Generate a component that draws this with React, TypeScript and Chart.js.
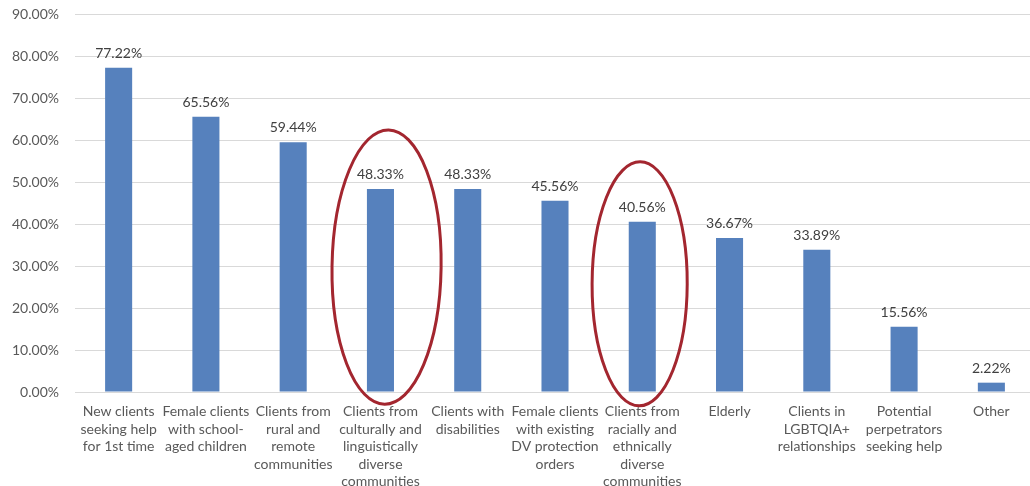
import React, { useEffect, useRef } from "react";
import { Chart, registerables } from "chart.js";

Chart.register(...registerables);

// Client groups (each label wrapped onto its own lines)
const CATEGORIES: string[][] = [
  ["New clients", "seeking help", "for 1st time"],
  ["Female clients", "with school-", "aged children"],
  ["Clients from", "rural and", "remote", "communities"],
  ["Clients from", "culturally and", "linguistically", "diverse", "communities"],
  ["Clients with", "disabilities"],
  ["Female clients", "with existing", "DV protection", "orders"],
  ["Clients from", "racially and", "ethnically", "diverse", "communities"],
  ["Elderly"],
  ["Clients in", "LGBTQIA+", "relationships"],
  ["Potential", "perpetrators", "seeking help"],
  ["Other"],
];

// Share of respondents (%)
const VALUES: number[] = [77.22, 65.56, 59.44, 48.33, 48.33, 45.56, 40.56, 36.67, 33.89, 15.56, 2.22];

// Value axis
const Y_MIN = 0;
const Y_MAX = 90;
const Y_STEP = 10;

// Groups circled for emphasis: category index, vertical extent (axis units),
// half-width and horizontal shift (category units), tilt (radians)
const HIGHLIGHT_INDEX = [3, 6];
const HIGHLIGHT_TOP = [62.4, 54.8];
const HIGHLIGHT_BOTTOM = [-2.9, -3.3];
const HIGHLIGHT_HALF_WIDTH = [0.625, 0.545];
const HIGHLIGHT_SHIFT = [0.07, -0.03];
const HIGHLIGHT_TILT = [0.015, 0.004];

const FONT = 'Lato, "Open Sans", sans-serif';

const valueLabels = {
  id: "valueLabels",
  afterDatasetsDraw(chart: any) {
    const { ctx } = chart;
    const meta = chart.getDatasetMeta(0);
    ctx.save();
    ctx.font = `14px ${FONT}`;
    ctx.fillStyle = "#404040";
    ctx.textAlign = "center";
    ctx.textBaseline = "alphabetic";
    meta.data.forEach((bar: any, i: number) => {
      ctx.fillText(VALUES[i].toFixed(2) + "%", bar.x, bar.y - 10);
    });
    ctx.restore();
  },
};

const highlightRings = {
  id: "highlightRings",
  afterDatasetsDraw(chart: any) {
    const { ctx } = chart;
    const x = chart.scales.x;
    const y = chart.scales.y;
    ctx.save();
    ctx.strokeStyle = "#A3262F";
    ctx.lineWidth = 3;
    HIGHLIGHT_INDEX.forEach((idx, k) => {
      const c = idx + HIGHLIGHT_SHIFT[k];
      const cx = x.getPixelForValue(c);
      const rx = x.getPixelForValue(c + HIGHLIGHT_HALF_WIDTH[k]) - cx;
      const top = y.getPixelForValue(HIGHLIGHT_TOP[k]);
      const bottom = y.getPixelForValue(HIGHLIGHT_BOTTOM[k]);
      const cy = (top + bottom) / 2;
      const ry = (bottom - top) / 2;
      ctx.beginPath();
      ctx.ellipse(cx, cy, rx, ry, HIGHLIGHT_TILT[k], 0, Math.PI * 2);
      ctx.stroke();
    });
    ctx.restore();
  },
};

export default function App() {
  const canvasRef = useRef<HTMLCanvasElement | null>(null);

  useEffect(() => {
    if (!canvasRef.current) return;
    const chart = new Chart(canvasRef.current, {
      type: "bar",
      data: {
        labels: CATEGORIES,
        datasets: [
          {
            data: VALUES,
            backgroundColor: "#5681BD",
            barPercentage: 0.31,
            categoryPercentage: 1,
          },
        ],
      },
      options: {
        responsive: false,
        animation: false,
        layout: { padding: { top: 14, right: 10, left: 0, bottom: 0 } },
        plugins: {
          legend: { display: false },
          tooltip: { enabled: false },
        },
        scales: {
          x: {
            grid: { display: false, drawTicks: false },
            border: { display: false },
            ticks: {
              color: "#595959",
              font: { family: FONT, size: 14, lineHeight: 1.25 },
              padding: 11,
              maxRotation: 0,
              minRotation: 0,
              autoSkip: false,
            },
            afterFit(scale: any) {
              scale.height = 94;
              scale.paddingLeft = 0;
              scale.paddingRight = 0;
            },
          },
          y: {
            min: Y_MIN,
            max: Y_MAX,
            grid: { color: "#D9D9D9", lineWidth: 1, drawTicks: false },
            border: { display: false },
            ticks: {
              stepSize: Y_STEP,
              color: "#595959",
              font: { family: FONT, size: 14 },
              padding: 16,
              callback: (v: any) => Number(v).toFixed(2) + "%",
            },
            afterFit(scale: any) {
              scale.width = 75;
              scale.paddingTop = 0;
              scale.paddingBottom = 0;
            },
          },
        },
      },
      plugins: [valueLabels, highlightRings],
    });
    return () => chart.destroy();
  }, []);

  return (
    <div
      style={{
        position: "fixed",
        left: 0,
        top: 0,
        width: 1030,
        height: 486,
        overflow: "hidden",
        background: "#ffffff",
      }}
    >
      <canvas
        ref={canvasRef}
        width={1045}
        height={486}
        style={{ position: "absolute", left: 0, top: 0, width: 1045, height: 486 }}
      />
    </div>
  );
}
